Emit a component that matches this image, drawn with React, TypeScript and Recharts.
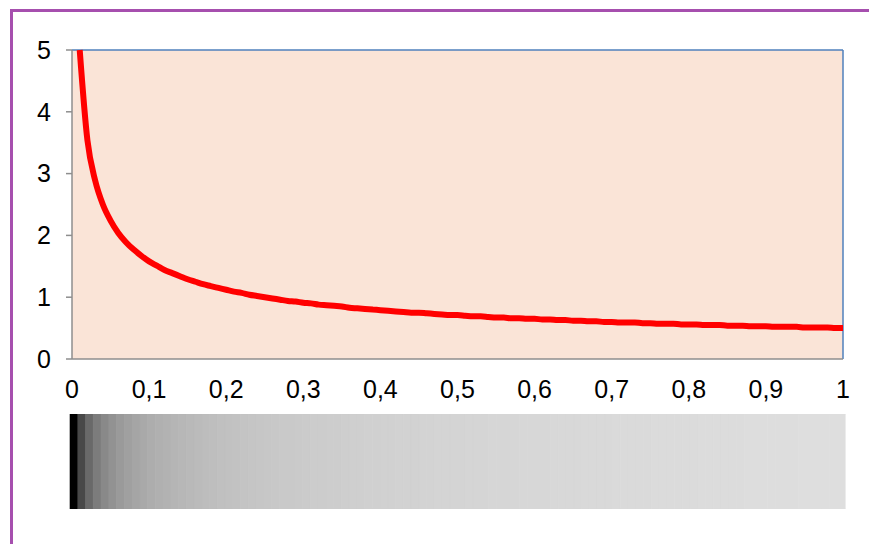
import {
  LineChart,
  Line,
  XAxis,
  YAxis,
  CartesianGrid,
  ReferenceLine,
  BarChart,
  Bar,
  Cell,
} from "recharts"

// x from 0,01 to 1,00 in steps of 0,01
const xValues = [
  0.01, 0.02, 0.03, 0.04, 0.05, 0.06, 0.07, 0.08, 0.09, 0.1,
  0.11, 0.12, 0.13, 0.14, 0.15, 0.16, 0.17, 0.18, 0.19, 0.2,
  0.21, 0.22, 0.23, 0.24, 0.25, 0.26, 0.27, 0.28, 0.29, 0.3,
  0.31, 0.32, 0.33, 0.34, 0.35, 0.36, 0.37, 0.38, 0.39, 0.4,
  0.41, 0.42, 0.43, 0.44, 0.45, 0.46, 0.47, 0.48, 0.49, 0.5,
  0.51, 0.52, 0.53, 0.54, 0.55, 0.56, 0.57, 0.58, 0.59, 0.6,
  0.61, 0.62, 0.63, 0.64, 0.65, 0.66, 0.67, 0.68, 0.69, 0.7,
  0.71, 0.72, 0.73, 0.74, 0.75, 0.76, 0.77, 0.78, 0.79, 0.8,
  0.81, 0.82, 0.83, 0.84, 0.85, 0.86, 0.87, 0.88, 0.89, 0.9,
  0.91, 0.92, 0.93, 0.94, 0.95, 0.96, 0.97, 0.98, 0.99, 1.0,
]

// curve values
const yValues = [
  5.0, 3.54, 2.89, 2.5, 2.24, 2.04, 1.89, 1.77, 1.67, 1.58,
  1.51, 1.44, 1.39, 1.34, 1.29, 1.25, 1.21, 1.18, 1.15, 1.12,
  1.09, 1.07, 1.04, 1.02, 1.0, 0.98, 0.96, 0.94, 0.93, 0.91,
  0.9, 0.88, 0.87, 0.86, 0.85, 0.83, 0.82, 0.81, 0.8, 0.79,
  0.78, 0.77, 0.76, 0.75, 0.75, 0.74, 0.73, 0.72, 0.71, 0.71,
  0.7, 0.69, 0.69, 0.68, 0.67, 0.67, 0.66, 0.66, 0.65, 0.65,
  0.64, 0.64, 0.63, 0.63, 0.62, 0.62, 0.61, 0.61, 0.6, 0.6,
  0.59, 0.59, 0.59, 0.58, 0.58, 0.57, 0.57, 0.57, 0.56, 0.56,
  0.56, 0.55, 0.55, 0.55, 0.54, 0.54, 0.54, 0.53, 0.53, 0.53,
  0.52, 0.52, 0.52, 0.52, 0.51, 0.51, 0.51, 0.51, 0.5, 0.5,
]

const xTicks = [0, 0.1, 0.2, 0.3, 0.4, 0.5, 0.6, 0.7, 0.8, 0.9, 1]
const yTicks = [0, 1, 2, 3, 4, 5]

const lineData = xValues.map((x, i) => ({ x, y: yValues[i] }))
const stripData = xValues.map((x) => ({ x, v: 1 }))

// darker shade for larger values
const shade = (y: number) => {
  const g = Math.max(0, Math.min(255, Math.round(247 - 49.3 * y)))
  return `rgb(${g},${g},${g})`
}

const font = { fontFamily: "Arial, 'Liberation Sans', sans-serif", fontSize: 25, fill: "#000" }

export default function App() {
  return (
    <div style={{ position: "absolute", left: 0, top: 0, width: 869, height: 544, background: "#fff", overflow: "hidden" }}>
      <div
        style={{
          position: "absolute",
          left: 10,
          top: 9,
          width: 900,
          height: 600,
          borderLeft: "3px solid #a64fae",
          borderTop: "3px solid #a64fae",
        }}
      />
      <div style={{ position: "absolute", left: 0, top: 0 }}>
        <LineChart width={869} height={420} data={lineData} margin={{ top: 50, right: 26, left: 12, bottom: 11 }}>
          <CartesianGrid horizontal={false} vertical={false} fill="#fae4d7" />
          <XAxis
            dataKey="x"
            type="number"
            domain={[0, 1]}
            ticks={xTicks}
            tickFormatter={(v: number) => String(v).replace(".", ",")}
            tick={font}
            tickLine={false}
            tickSize={0}
            tickMargin={21}
            height={50}
            axisLine={{ stroke: "#8e8e8e", strokeWidth: 1.5 }}
          />
          <YAxis
            type="number"
            domain={[0, 5]}
            ticks={yTicks}
            tick={font}
            tickSize={6}
            tickMargin={15}
            width={60}
            tickLine={{ stroke: "#8e8e8e", strokeWidth: 1.5 }}
            axisLine={{ stroke: "#8e8e8e", strokeWidth: 1.5 }}
          />
          <ReferenceLine y={5} stroke="#4f81bd" strokeWidth={1.5} />
          <ReferenceLine x={1} stroke="#4f81bd" strokeWidth={1.5} />
          <Line
            type="monotone"
            dataKey="y"
            stroke="#ff0000"
            strokeWidth={6}
            dot={false}
            isAnimationActive={false}
          />
        </LineChart>
      </div>
      <div style={{ position: "absolute", left: 0, top: 414 }}>
        <BarChart width={869} height={95} data={stripData} barCategoryGap={0} barGap={0} margin={{ top: 0, right: 24, left: 70, bottom: 0 }}>
          <XAxis dataKey="x" hide />
          <YAxis domain={[0, 1]} hide />
          <Bar dataKey="v" isAnimationActive={false}>
            {stripData.map((d, i) => (
              <Cell key={d.x} fill={shade(yValues[i])} stroke={shade(yValues[i])} strokeWidth={0.6} />
            ))}
          </Bar>
        </BarChart>
      </div>
    </div>
  )
}
